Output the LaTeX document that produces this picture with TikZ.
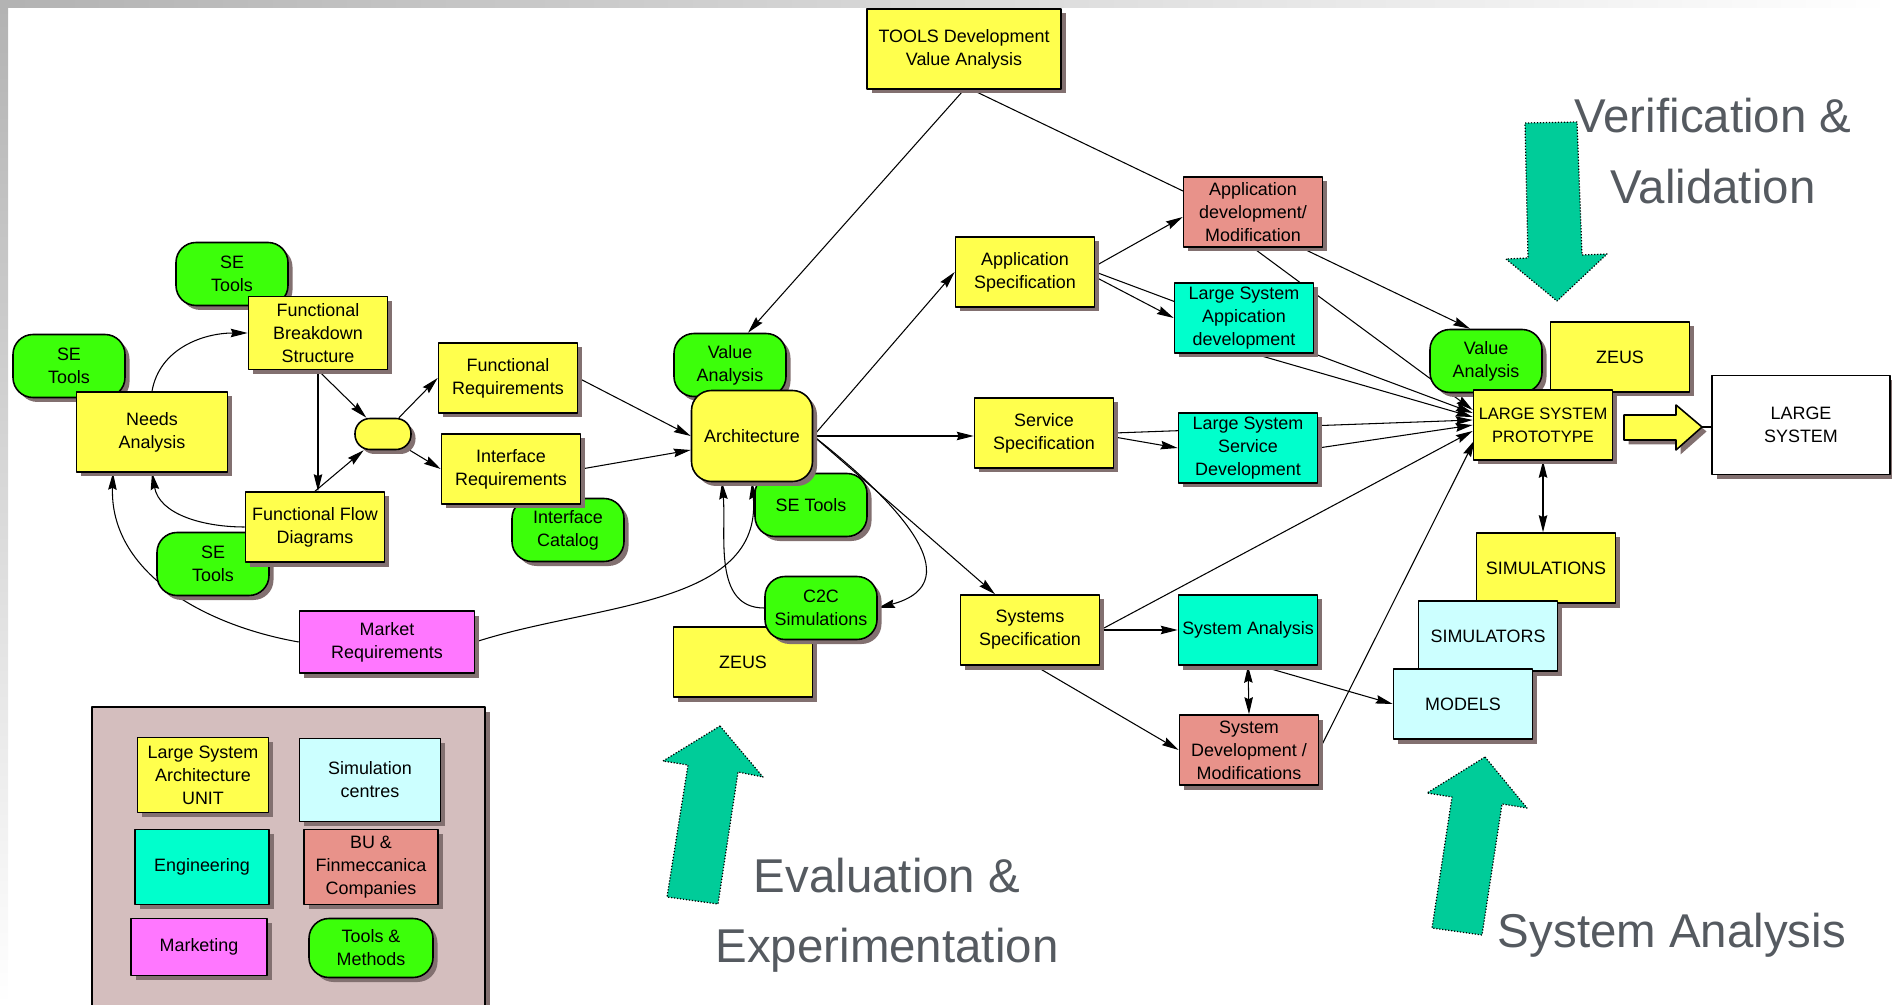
\documentclass[tikz,border=0pt]{standalone}
\usepackage{fontspec}
\setmainfont{Liberation Sans}
\usetikzlibrary{arrows.meta,shadows,calc}
\definecolor{ylw}{RGB}{255,255,77}
\definecolor{grn}{RGB}{60,255,10}
\definecolor{engc}{RGB}{0,255,204}
\definecolor{buc}{RGB}{232,146,138}
\definecolor{mktc}{RGB}{255,119,255}
\definecolor{simc}{RGB}{204,255,255}
\definecolor{legc}{RGB}{212,190,190}
\definecolor{tealc}{RGB}{0,204,153}
\definecolor{shadc}{RGB}{130,112,112}
\definecolor{bigtxt}{RGB}{85,90,96}
\pgfdeclarelayer{bg}
\pgfsetlayers{bg,main}
\begin{document}
\begin{tikzpicture}[x=0.2mm, y=0.2mm, font=\fontsize{10.2}{13}\selectfont, line join=round,
	>={Stealth[length=3.4mm,width=1.7mm,inset=0.4mm]},
	box/.style={draw, line width=0.9pt, align=center, inner sep=1pt, minimum width=27.8mm, minimum height=14mm,
		drop shadow={shadow xshift=0.9mm, shadow yshift=-0.9mm, opacity=1, fill=shadc}},
	unitbox/.style={box, fill=ylw},
	engbox/.style={box, fill=engc},
	bubox/.style={box, fill=buc},
	mktbox/.style={box, fill=mktc},
	simbox/.style={box, fill=simc},
	toolbox/.style={box, fill=grn, rounded corners=4mm, minimum width=22.4mm, minimum height=12.6mm},
	link/.style={line width=0.6pt, ->},
	phase/.style={fill=tealc, draw=black, line width=0.7pt, densely dotted},
	phasetext/.style={font=\fontsize{27}{40}\selectfont, text=bigtxt, align=center}]
	\useasboundingbox (0,0) rectangle (1892,-1005);
	\shade[left color=gray!60, right color=white] (0,0) rectangle (1892,-8);
	\shade[top color=gray!60, bottom color=white] (0,0) rectangle (8,-1005);
	
	\draw[fill=legc, line width=0.9pt, drop shadow={shadow xshift=0.9mm, shadow yshift=-0.9mm, opacity=1, fill=shadc}] (92,-707) rectangle (485,-1012);
	\node[unitbox, minimum width=26.2mm, minimum height=15mm] (lunit) at (203,-775) {Large System\\Architecture\\UNIT};
	\node[simbox, minimum width=28.2mm, minimum height=16.6mm] (lsim) at (370,-780) {Simulation\\centres};
	\node[engbox, minimum width=26.8mm, minimum height=15mm] (leng) at (202,-867) {Engineering};
	\node[bubox, minimum width=26.8mm, minimum height=15mm] (lbu) at (371,-867) {BU \&\\Finmeccanica\\Companies};
	\node[mktbox, minimum width=27.2mm, minimum height=11.4mm] (lmkt) at (199,-947) {Marketing};
	\node[toolbox, minimum width=24.8mm, minimum height=11.8mm] (ltool) at (371,-948) {Tools \&\\Methods};
	
	\node[toolbox] (setop) at (232,-274) {SE\\Tools};
	\node[toolbox] (seleft) at (69,-366) {SE\\Tools};
	\node[toolbox] (sebot) at (213,-564) {SE\\Tools};
	\node[unitbox, minimum width=30.2mm, minimum height=16mm] (needs) at (152,-432) {Needs\\Analysis};
	\node[unitbox, minimum height=14.6mm] (fbs) at (318,-333) {Functional\\Breakdown\\Structure};
	\node[unitbox] (ffd) at (315,-527) {Functional Flow\\Diagrams};
	\node[unitbox, rounded corners=3mm, minimum width=11.2mm, minimum height=6.2mm] (merge) at (383,-434) {};
	\node[unitbox] (freq) at (508,-378) {Functional\\Requirements};
	\node[toolbox] (icat) at (568,-530) {Interface\\Catalog};
	\node[unitbox] (ireq) at (511,-469) {Interface\\Requirements};
	\node[mktbox, minimum width=35mm, minimum height=12.4mm] (mreq) at (387,-642) {Market\\Requirements};
	\node[toolbox] (valarch) at (730,-365) {Value\\Analysis};
	\node[toolbox] (search) at (811,-505) {SE Tools};
	\node[unitbox, rounded corners=4mm, minimum width=24.2mm, minimum height=18.2mm] (arch) at (752,-436) {Architecture};
	\node[unitbox] (zeusa) at (743,-662) {ZEUS};
	\node[toolbox] (c2c) at (821,-608) {C2C\\Simulations};
	\node[unitbox, minimum width=38.8mm, minimum height=16mm] (tools) at (964,-49) {TOOLS Development\\Value Analysis};
	\node[unitbox] (appspec) at (1025,-272) {Application\\Specification};
	\node[unitbox] (servspec) at (1044,-433) {Service\\Specification};
	\node[unitbox] (sysspec) at (1030,-630) {Systems\\Specification};
	\node[bubox] (appdev) at (1253,-212) {Application\\development/\\Modification};
	\node[engbox] (lsapp) at (1244,-318) {Large System\\Appication\\development};
	\node[engbox] (lsserv) at (1248,-448) {Large System\\Service\\Development};
	\node[engbox] (sysan) at (1248,-630) {System Analysis};
	\node[bubox] (sysdev) at (1249,-750) {System\\Development /\\Modifications};
	\node[toolbox] (valproto) at (1486,-361) {Value\\Analysis};
	\node[unitbox] (zeusp) at (1620,-357) {ZEUS};
	\node[unitbox, font=\fontsize{9.4}{13}\selectfont] (proto) at (1543,-425) {LARGE SYSTEM\\PROTOTYPE};
	\node[unitbox] (simul) at (1546,-568) {SIMULATIONS};
	\node[simbox] (simtr) at (1488,-636) {SIMULATORS};
	\node[simbox] (models) at (1463,-704) {MODELS};
	\node[box, fill=white, minimum width=35.6mm, minimum height=19.8mm] (lsys) at (1801,-425) {LARGE\\SYSTEM};
	
	\draw[fill=ylw, line width=0.9pt, drop shadow={shadow xshift=0.9mm, shadow yshift=-0.9mm, opacity=1, fill=shadc}]
		(1624,-415) -- (1676,-415) -- (1676,-405) -- (1702,-427) -- (1676,-450) -- (1676,-440) -- (1624,-440) -- cycle;
	\coordinate (tip) at (1702,-427);
	\draw[line width=0.6pt] (tip) -- (tip -| lsys.west);
	
	\draw[phase] (1525,-123) -- (1577,-122) -- (1582,-255) -- (1607,-254) -- (1557,-301) -- (1506,-259) -- (1528,-258) -- cycle;
	\draw[phase] (720,-726) -- (763,-777) -- (738,-772) -- (718,-904) -- (667,-897) -- (688,-765) -- (663,-761) -- cycle;
	\draw[phase] (1485,-757) -- (1527,-808) -- (1502,-804) -- (1482,-935) -- (1432,-928) -- (1452,-797) -- (1427,-793) -- cycle;
	\node[phasetext] (verval) at (1713,-151) {Verification \&\\Validation};
	\node[phasetext] (evalexp) at (887,-915) {Evaluation \&\\Experimentation};
	\node[phasetext, anchor=base] (sysanl) at (1672,-947) {System Analysis};
	
	\begin{pgfonlayer}{bg}
		\draw[link] (needs.north) to[out=80,in=180] (fbs.west);
		\draw[link] (fbs.south) -- (fbs.south |- ffd.north);
		\draw[link] (fbs.south) -- (merge);
		\draw[link] (ffd.north) -- (merge);
		\draw[link] (merge) -- (freq.west);
		\draw[link] (merge) -- (ireq.west);
		\draw[link] (ffd.west) to[out=180,in=-80] (needs.south);
		\draw[link] (mreq.west) to[out=170,in=-92] ($(needs.south)+(-39,0)$);
		\draw[link] (mreq.east) to[out=18,in=-85] (arch.south);
		\draw[link] (freq.east) -- (arch.west);
		\draw[link] (ireq.east) -- ($(arch.west)+(0,-14)$);
		\draw[link] (c2c.west) to[out=180,in=-85] ($(arch.south)+(-30,0)$);
		\draw[link] (arch.east) to[out=-38,in=15,looseness=1.4] (c2c.east);
		\draw[link] (arch.east) -- ($(sysspec.north)+(-35,0)$);
		\draw[link] (arch.east) -- (arch.east -| servspec.west);
		\draw[link] (arch.east) -- (appspec.west);
		\draw[link] (tools.south) -- ($(valarch.north)+(18,0)$);
		\draw[link] ($(tools.south)+(8,0)$) -- ($(valproto.north)+(-16,0)$);
		\draw[link] ($(appspec.east)+(0,6)$) -- ($(appdev.west)+(0,-5)$);
		\draw[link] (appspec.east) -- ($(proto.west)+(0,12)$);
		\draw[link] ($(appspec.east)+(0,-5)$) -- (lsapp.west);
		\draw[link] (appdev.south) -- ($(proto.west)+(0,15)$);
		\draw[link] ($(lsapp.south)+(10,0)$) -- ($(proto.west)+(0,8)$);
		\draw[link] (servspec.east) -- ($(proto.west)+(0,5)$);
		\draw[link] ($(servspec.east)+(0,-4)$) -- (lsserv.west);
		\draw[link] (lsserv.east) -- (proto.west);
		\draw[link] (sysspec.east) -- ($(proto.west)+(0,-6)$);
		\draw[link] (sysspec.east) -- (sysan.west);
		\draw[link] ($(sysspec.south)+(5,0)$) -- (sysdev.west);
		\draw[link, <->] (sysan.south) -- (sysdev.north);
		\draw[link] ($(sysan.south)+(12,0)$) -- (models.west);
		\draw[link] (sysdev.east) -- ($(proto.west)+(2,-15)$);
		\draw[link, <->] (proto.south) -- (proto.south |- simul.north);
	\end{pgfonlayer}
\end{tikzpicture}
\end{document}
